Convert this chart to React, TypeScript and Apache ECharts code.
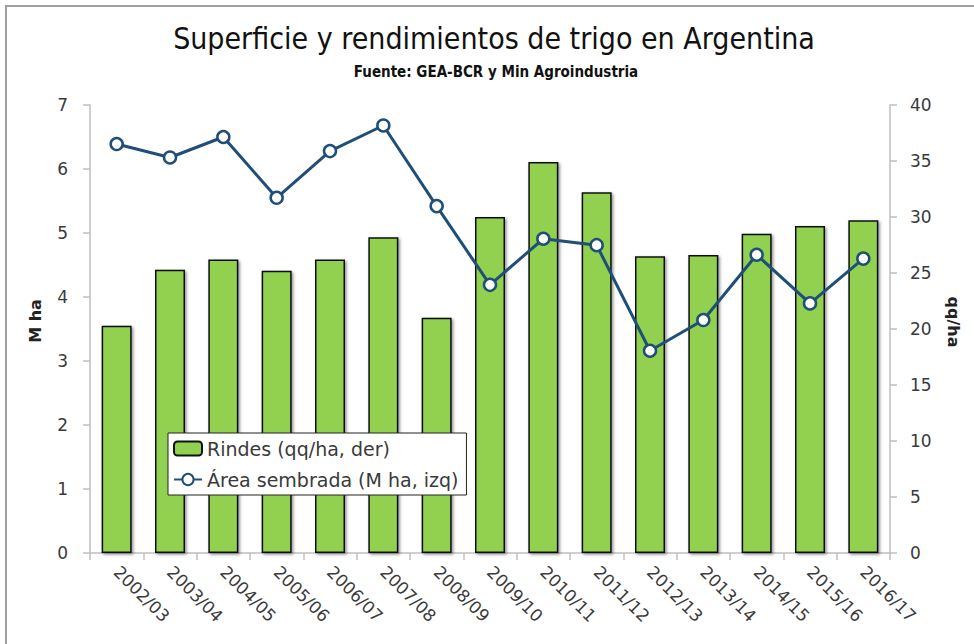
import React, { useEffect, useRef } from "react";
import * as echarts from "echarts";

const categories = [
  "2002/03", "2003/04", "2004/05", "2005/06", "2006/07", "2007/08", "2008/09",
  "2009/10", "2010/11", "2011/12", "2012/13", "2013/14", "2014/15", "2015/16", "2016/17",
];
const rindes = [20.3, 25.3, 26.2, 25.2, 26.2, 28.2, 21.0, 30.0, 34.9, 32.2, 26.5, 26.6, 28.5, 29.2, 29.7];
const area = [6.39, 6.18, 6.5, 5.55, 6.28, 6.68, 5.42, 4.19, 4.91, 4.81, 3.16, 3.64, 4.66, 3.9, 4.6];

const titleText = "Superficie y rendimientos de trigo en Argentina";
const subtitleText = "Fuente: GEA-BCR y Min Agroindustria";
const leftName = "M ha";
const rightName = "qq/ha";
const barName = "Rindes (qq/ha, der)";
const lineName = "Área sembrada (M ha, izq)";

const FONT = "'DejaVu Sans', Verdana, sans-serif";
const NARROW = "'DejaVu Sans Condensed', 'DejaVu Sans', sans-serif";
const AXIS_GRAY = "#bfbfbf";
const TEXT = "#3a3a3a";

export default function App() {
  const ref = useRef<HTMLDivElement>(null);
  useEffect(() => {
    if (!ref.current) return;
    const chart = echarts.init(ref.current, null, { renderer: "svg" });
    chart.setOption({
      animation: false,
      backgroundColor: "#ffffff",
      graphic: [
        {
          type: "polyline",
          shape: { points: [[6, 660], [6, 6], [980, 6]] },
          style: { stroke: "#a0a0a0", lineWidth: 2, fill: "none" },
          silent: true,
        },
        {
          type: "text",
          x: 494,
          y: 38,
          style: {
            text: titleText,
            fontFamily: NARROW,
            fontSize: 30,
            fontWeight: "normal",
            fill: "#111",
            align: "center",
            verticalAlign: "middle",
          },
        },
        {
          type: "text",
          x: 496,
          y: 72,
          style: {
            text: subtitleText,
            fontFamily: NARROW,
            fontSize: 15,
            fontWeight: "bold",
            fill: "#111",
            align: "center",
            verticalAlign: "middle",
          },
        },
      ],
      grid: { left: 90, right: 84, top: 105, bottom: 91, containLabel: false },
      legend: {
        orient: "vertical",
        left: 168,
        top: 433,
        itemGap: 12,
        itemWidth: 28,
        itemHeight: 14,
        padding: [6, 8, 6, 5],
        backgroundColor: "#ffffff",
        borderColor: "#222",
        borderWidth: 1,
        borderRadius: 0,
        textStyle: { fontFamily: FONT, fontSize: 19, color: TEXT },
        data: [barName, lineName],
      },
      xAxis: {
        type: "category",
        data: categories,
        axisLine: { show: true, lineStyle: { color: AXIS_GRAY, width: 1.5 } },
        axisTick: { show: true, alignWithLabel: false, interval: 0, length: 7, lineStyle: { color: AXIS_GRAY, width: 1.5 } },
        axisLabel: {
          interval: 0,
          rotate: -45,
          margin: 16,
          fontFamily: FONT,
          fontSize: 17,
          color: TEXT,
        },
        splitLine: { show: false },
      },
      yAxis: [
        {
          type: "value",
          position: "left",
          min: 0,
          max: 7,
          interval: 1,
          name: leftName,
          nameLocation: "middle",
          nameGap: 47,
          nameRotate: 90,
          nameTextStyle: { fontFamily: FONT, fontSize: 16, fontWeight: "bold", color: "#222", padding: [0, 0, 0, 16] },
          axisLine: { show: true, lineStyle: { color: AXIS_GRAY, width: 1.5 } },
          axisTick: { show: true, length: 7, lineStyle: { color: AXIS_GRAY, width: 1.5 } },
          axisLabel: { fontFamily: FONT, fontSize: 17, color: TEXT, margin: 22 },
          splitLine: { show: false },
        },
        {
          type: "value",
          position: "right",
          min: 0,
          max: 40,
          interval: 5,
          name: rightName,
          nameLocation: "middle",
          nameGap: 55,
          nameRotate: -90,
          nameTextStyle: { fontFamily: FONT, fontSize: 16, fontWeight: "bold", color: "#222", padding: [0, 14, 0, 0] },
          axisLine: { show: true, lineStyle: { color: AXIS_GRAY, width: 1.5 } },
          axisTick: { show: true, length: 7, lineStyle: { color: AXIS_GRAY, width: 1.5 } },
          axisLabel: { fontFamily: FONT, fontSize: 17, color: TEXT, margin: 20 },
          splitLine: { show: false },
        },
      ],
      series: [
        {
          name: barName,
          type: "bar",
          yAxisIndex: 1,
          data: rindes,
          barWidth: 30,
          itemStyle: {
            color: "#92D050",
            borderColor: "#111",
            borderWidth: 1.5,
            shadowColor: "rgba(0,0,0,0.45)",
            shadowBlur: 3,
            shadowOffsetX: 1.5,
            shadowOffsetY: 1.5,
          },
          z: 2,
        },
        {
          name: lineName,
          type: "line",
          yAxisIndex: 0,
          data: area,
          symbol: "circle",
          symbolSize: 12,
          lineStyle: { color: "#1F4E79", width: 3 },
          itemStyle: { color: "#ffffff", borderColor: "#1F4E79", borderWidth: 2.5 },
          z: 3,
        },
      ],
    });
    return () => chart.dispose();
  }, []);
  return (
    <div
      ref={ref}
      style={{ position: "fixed", left: 0, top: 0, width: 974, height: 644, background: "#fff" }}
    />
  );
}
